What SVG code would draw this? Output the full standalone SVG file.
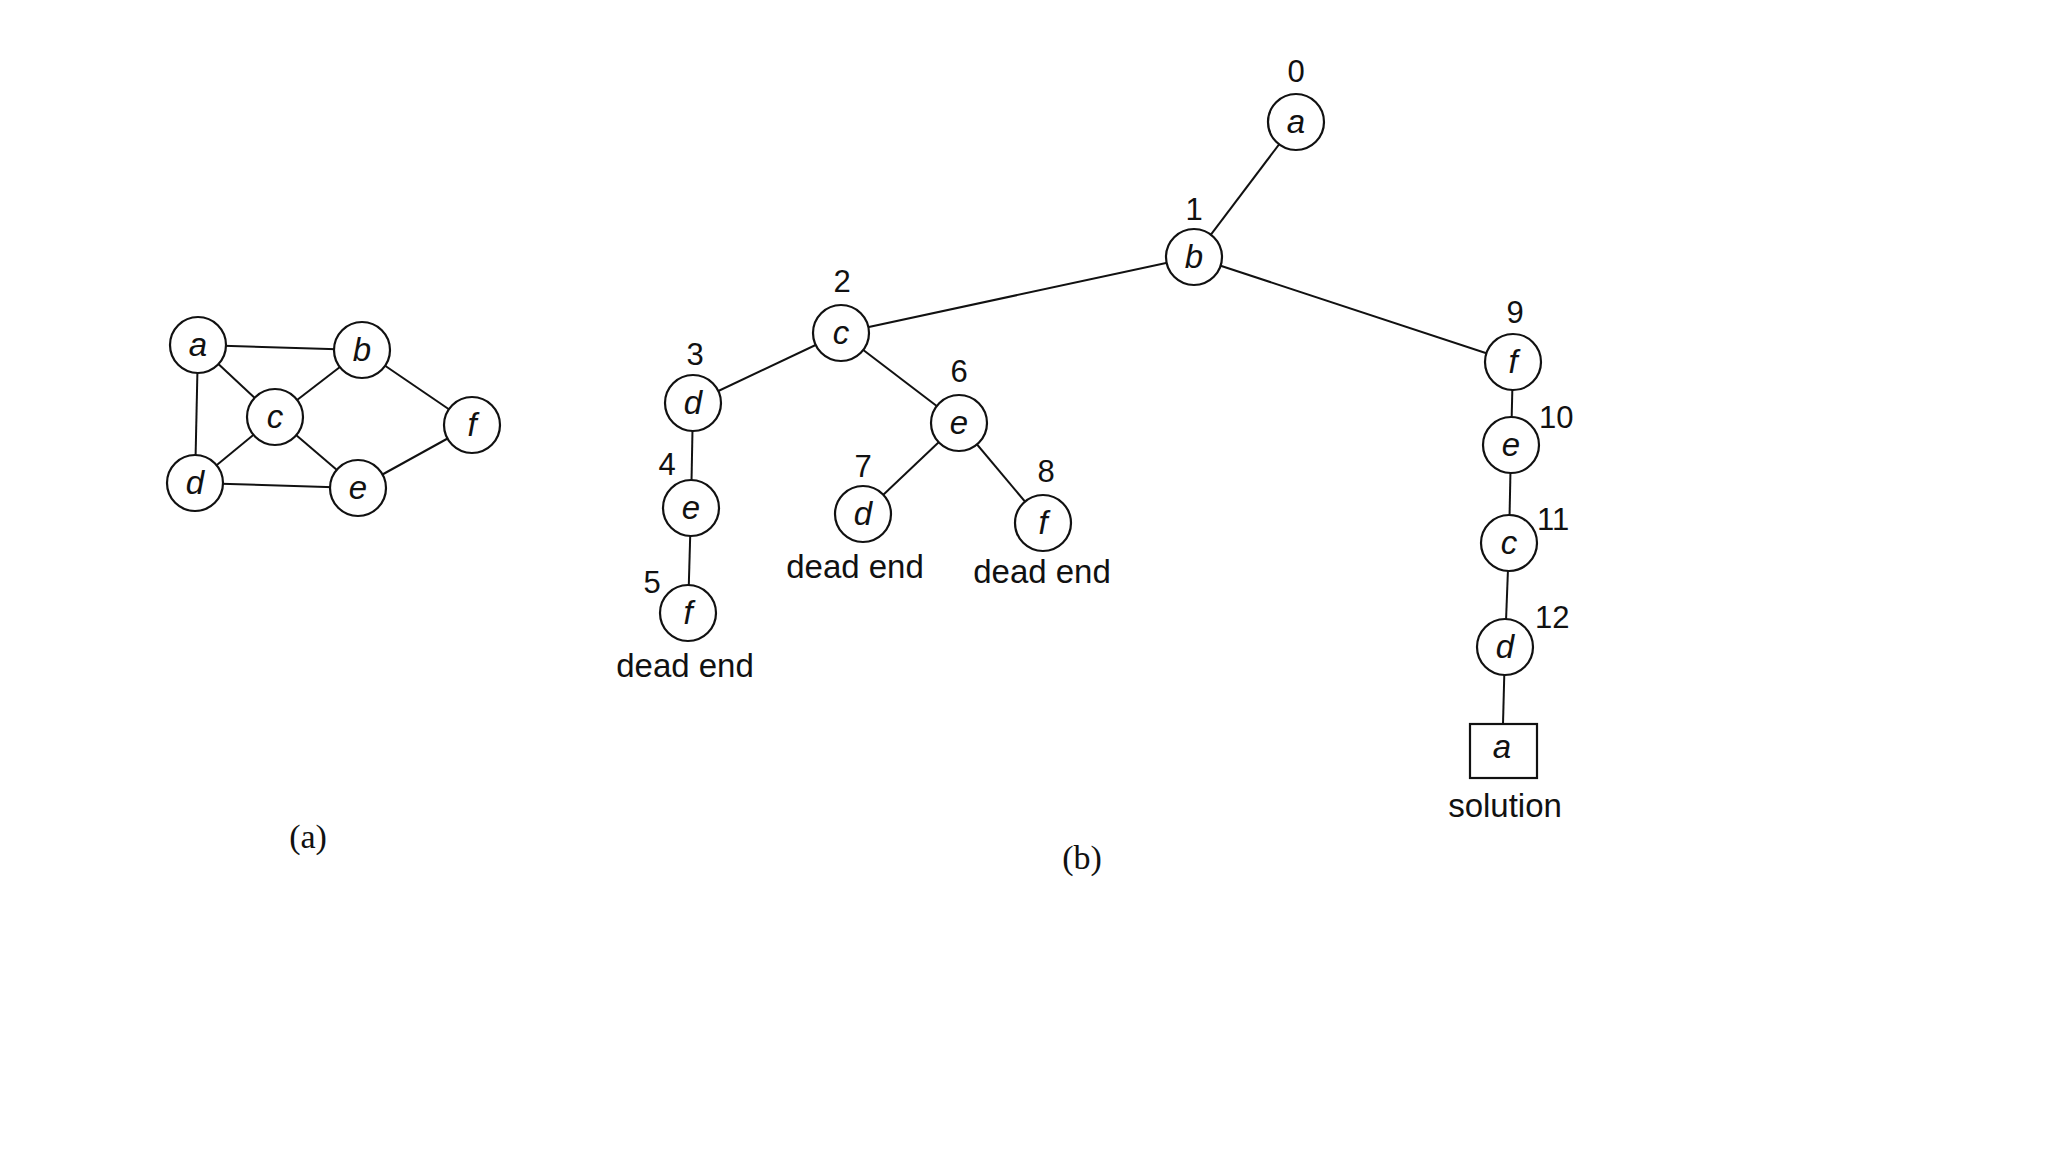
<svg xmlns="http://www.w3.org/2000/svg" width="2048" height="1152" viewBox="0 0 2048 1152">
<style>
.n circle{fill:#fff;stroke:#111;stroke-width:2.2}
.n rect{fill:#fff;stroke:#111;stroke-width:2.2}
.n text.v{font-family:"Liberation Sans",Arial,sans-serif;font-style:italic;font-size:33px;fill:#111;text-anchor:middle}
.lbl{font-family:"Liberation Sans",Arial,sans-serif;font-size:31px;fill:#111}
.big{font-size:33px}
.mid{text-anchor:middle}
.cap{font-family:"Liberation Serif","Times New Roman",serif;font-size:34px;fill:#111;text-anchor:middle}
#edges line{stroke:#111;stroke-width:2}
</style>
<rect width="2048" height="1152" fill="#fff"/>
<g id="edges">
<line x1="198" y1="345" x2="362" y2="350"/>
<line x1="198" y1="345" x2="275" y2="417"/>
<line x1="198" y1="345" x2="195" y2="483"/>
<line x1="362" y1="350" x2="275" y2="417"/>
<line x1="362" y1="350" x2="472" y2="425"/>
<line x1="275" y1="417" x2="195" y2="483"/>
<line x1="275" y1="417" x2="358" y2="488"/>
<line x1="195" y1="483" x2="358" y2="488"/>
<line x1="358" y1="488" x2="472" y2="425"/>
<line x1="1296" y1="122" x2="1194" y2="257"/>
<line x1="1194" y1="257" x2="841" y2="333"/>
<line x1="1194" y1="257" x2="1513" y2="362"/>
<line x1="841" y1="333" x2="693" y2="403"/>
<line x1="841" y1="333" x2="959" y2="423"/>
<line x1="693" y1="403" x2="691" y2="508"/>
<line x1="691" y1="508" x2="688" y2="613"/>
<line x1="959" y1="423" x2="863" y2="514"/>
<line x1="959" y1="423" x2="1043" y2="523"/>
<line x1="1513" y1="362" x2="1511" y2="445"/>
<line x1="1511" y1="445" x2="1509" y2="543"/>
<line x1="1509" y1="543" x2="1505" y2="647"/>
<line x1="1505" y1="647" x2="1503" y2="724"/>
</g>
<g id="graph-a" class="n"><circle cx="198" cy="345" r="28"/><text class="v" x="198" y="356">a</text></g>
<g id="graph-b" class="n"><circle cx="362" cy="350" r="28"/><text class="v" x="362" y="361">b</text></g>
<g id="graph-c" class="n"><circle cx="275" cy="417" r="28"/><text class="v" x="275" y="428">c</text></g>
<g id="graph-d" class="n"><circle cx="195" cy="483" r="28"/><text class="v" x="195" y="494">d</text></g>
<g id="graph-e" class="n"><circle cx="358" cy="488" r="28"/><text class="v" x="358" y="499">e</text></g>
<g id="graph-f" class="n"><circle cx="472" cy="425" r="28"/><text class="v" x="472" y="436">f</text></g>
<g id="t0" class="n"><circle cx="1296" cy="122" r="28"/><text class="v" x="1296" y="133">a</text><text class="lbl mid" x="1296" y="82">0</text></g>
<g id="t1" class="n"><circle cx="1194" cy="257" r="28"/><text class="v" x="1194" y="268">b</text><text class="lbl mid" x="1194" y="220">1</text></g>
<g id="t2" class="n"><circle cx="841" cy="333" r="28"/><text class="v" x="841" y="344">c</text><text class="lbl mid" x="842" y="292">2</text></g>
<g id="t3" class="n"><circle cx="693" cy="403" r="28"/><text class="v" x="693" y="414">d</text><text class="lbl mid" x="695" y="365">3</text></g>
<g id="t4" class="n"><circle cx="691" cy="508" r="28"/><text class="v" x="691" y="519">e</text><text class="lbl mid" x="667" y="475">4</text></g>
<g id="t5" class="n"><circle cx="688" cy="613" r="28"/><text class="v" x="688" y="624">f</text><text class="lbl mid" x="652" y="593">5</text><text class="lbl big mid" x="685" y="677">dead end</text></g>
<g id="t6" class="n"><circle cx="959" cy="423" r="28"/><text class="v" x="959" y="434">e</text><text class="lbl mid" x="959" y="382">6</text></g>
<g id="t7" class="n"><circle cx="863" cy="514" r="28"/><text class="v" x="863" y="525">d</text><text class="lbl mid" x="863" y="477">7</text><text class="lbl big mid" x="855" y="578">dead end</text></g>
<g id="t8" class="n"><circle cx="1043" cy="523" r="28"/><text class="v" x="1043" y="534">f</text><text class="lbl mid" x="1046" y="482">8</text><text class="lbl big mid" x="1042" y="583">dead end</text></g>
<g id="t9" class="n"><circle cx="1513" cy="362" r="28"/><text class="v" x="1513" y="373">f</text><text class="lbl mid" x="1515" y="323">9</text></g>
<g id="t10" class="n"><circle cx="1511" cy="445" r="28"/><text class="v" x="1511" y="456">e</text><text class="lbl" x="1539" y="428">10</text></g>
<g id="t11" class="n"><circle cx="1509" cy="543" r="28"/><text class="v" x="1509" y="554">c</text><text class="lbl" x="1537" y="530">11</text></g>
<g id="t12" class="n"><circle cx="1505" cy="647" r="28"/><text class="v" x="1505" y="658">d</text><text class="lbl" x="1535" y="628">12</text></g>
<g id="t13" class="n"><rect x="1470" y="724" width="67" height="54"/><text class="v" x="1502" y="758">a</text><text class="lbl big mid" x="1505" y="817">solution</text></g>
<text class="cap" x="308" y="848">(a)</text>
<text class="cap" x="1082" y="869">(b)</text>
</svg>
